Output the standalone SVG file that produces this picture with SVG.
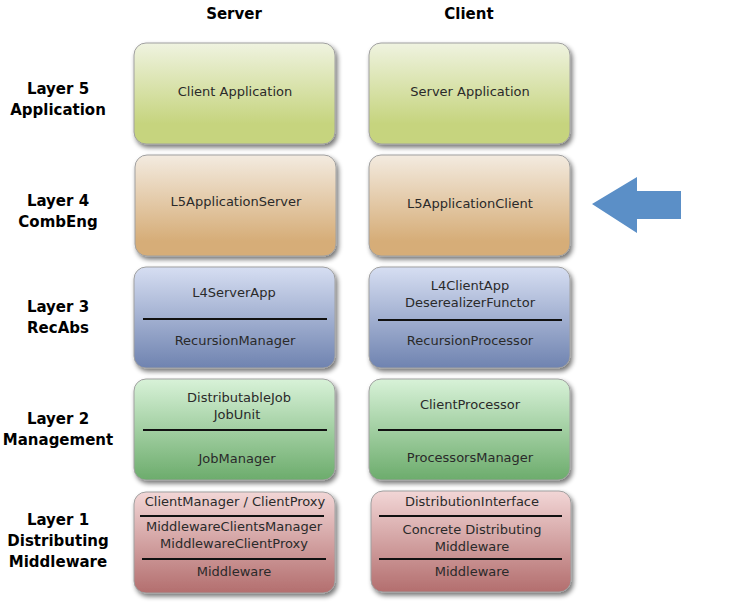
<svg xmlns="http://www.w3.org/2000/svg" width="737" height="605" viewBox="0 0 737 605">
<defs>
<linearGradient id="g5" x1="0" y1="0" x2="0" y2="1"><stop offset="0" stop-color="#eff3e0"/><stop offset="0.8" stop-color="#c6d47e"/></linearGradient>
<linearGradient id="g4" x1="0" y1="0" x2="0" y2="1"><stop offset="0" stop-color="#f3ebe0"/><stop offset="0.85" stop-color="#d6ad78"/></linearGradient>
<linearGradient id="g3" x1="0" y1="0" x2="0" y2="1"><stop offset="0" stop-color="#d6def2"/><stop offset="1" stop-color="#6f83b0"/></linearGradient>
<linearGradient id="g2" x1="0" y1="0" x2="0" y2="1"><stop offset="0" stop-color="#d8f2d8"/><stop offset="1" stop-color="#6cac6c"/></linearGradient>
<linearGradient id="g1" x1="0" y1="0" x2="0" y2="1"><stop offset="0" stop-color="#f2d6d6"/><stop offset="1" stop-color="#b36e6e"/></linearGradient>
<filter id="sh" x="-10%" y="-10%" width="130%" height="130%"><feGaussianBlur in="SourceAlpha" stdDeviation="2.5"/><feOffset dx="2" dy="3"/><feComponentTransfer><feFuncA type="linear" slope="0.55"/></feComponentTransfer><feMerge><feMergeNode/><feMergeNode in="SourceGraphic"/></feMerge></filter>
</defs>
<style>
.box{stroke:#a0a0a0;stroke-width:1;filter:url(#sh)}
.t{font-family:"DejaVu Sans",sans-serif;font-size:13px;fill:#2a2a2a;text-anchor:middle}
.h{font-family:"DejaVu Sans",sans-serif;font-size:15px;font-weight:bold;fill:#000;text-anchor:middle}
.sep{stroke:#111;stroke-width:2.2}
</style>
<g id="headers">
<text class="h" x="234" y="19">Server</text>
<text class="h" x="469" y="19">Client</text>
</g>
<g id="labels">
<text class="h" x="58" y="94">Layer 5</text><text class="h" x="58" y="115">Application</text>
<text class="h" x="58" y="206">Layer 4</text><text class="h" x="58" y="227">CombEng</text>
<text class="h" x="58" y="312">Layer 3</text><text class="h" x="58" y="333">RecAbs</text>
<text class="h" x="58" y="424">Layer 2</text><text class="h" x="58" y="445">Management</text>
<text class="h" x="58" y="525">Layer 1</text><text class="h" x="58" y="546">Distributing</text><text class="h" x="58" y="567">Middleware</text>
</g>
<g id="server-l5"><rect class="box" x="134" y="43" width="201" height="101" rx="12" fill="url(#g5)"/><text class="t" x="235" y="96">Client Application</text></g>
<g id="client-l5"><rect class="box" x="369" y="43" width="201" height="101" rx="12" fill="url(#g5)"/><text class="t" x="470" y="96">Server Application</text></g>
<g id="server-l4"><rect class="box" x="135" y="155" width="201" height="101" rx="12" fill="url(#g4)"/><text class="t" x="236" y="206">L5ApplicationServer</text></g>
<g id="client-l4"><rect class="box" x="369" y="155" width="201" height="101" rx="12" fill="url(#g4)"/><text class="t" x="470" y="208">L5ApplicationClient</text></g>
<g id="server-l3"><rect class="box" x="134" y="267" width="201" height="101" rx="12" fill="url(#g3)"/><text class="t" x="234" y="297">L4ServerApp</text><line class="sep" x1="143" y1="319" x2="327" y2="319"/><text class="t" x="235" y="345">RecursionManager</text></g>
<g id="client-l3"><rect class="box" x="369" y="267" width="201" height="101" rx="12" fill="url(#g3)"/><text class="t" x="470" y="290">L4ClientApp</text><text class="t" x="470" y="307">DeserealizerFunctor</text><line class="sep" x1="378" y1="320" x2="562" y2="320"/><text class="t" x="470" y="345">RecursionProcessor</text></g>
<g id="server-l2"><rect class="box" x="134" y="379" width="201" height="101" rx="12" fill="url(#g2)"/><text class="t" x="239" y="402">DistributableJob</text><text class="t" x="237" y="419">JobUnit</text><line class="sep" x1="143" y1="430" x2="327" y2="430"/><text class="t" x="237" y="463">JobManager</text></g>
<g id="client-l2"><rect class="box" x="369" y="379" width="201" height="101" rx="12" fill="url(#g2)"/><text class="t" x="470" y="409">ClientProcessor</text><line class="sep" x1="378" y1="430" x2="562" y2="430"/><text class="t" x="470" y="462">ProcessorsManager</text></g>
<g id="server-l1"><rect class="box" x="134" y="492" width="201" height="101" rx="12" fill="url(#g1)"/><text class="t" x="235" y="506">ClientManager / ClientProxy</text><line class="sep" x1="140" y1="516" x2="324" y2="516"/><text class="t" x="234" y="531">MiddlewareClientsManager</text><text class="t" x="234" y="548">MiddlewareClientProxy</text><line class="sep" x1="142" y1="559" x2="326" y2="559"/><text class="t" x="234" y="576">Middleware</text></g>
<g id="client-l1"><rect class="box" x="371" y="491" width="200" height="101" rx="12" fill="url(#g1)"/><text class="t" x="472" y="506">DistributionInterface</text><line class="sep" x1="379" y1="516" x2="562" y2="516"/><text class="t" x="472" y="534">Concrete Distributing</text><text class="t" x="472" y="551">Middleware</text><line class="sep" x1="379" y1="559" x2="562" y2="559"/><text class="t" x="472" y="576">Middleware</text></g>
<g id="arrow"><polygon points="592,204 637,177 637,191 681,191 681,219 637,219 637,233" fill="#5b8fc7"/></g>
</svg>
